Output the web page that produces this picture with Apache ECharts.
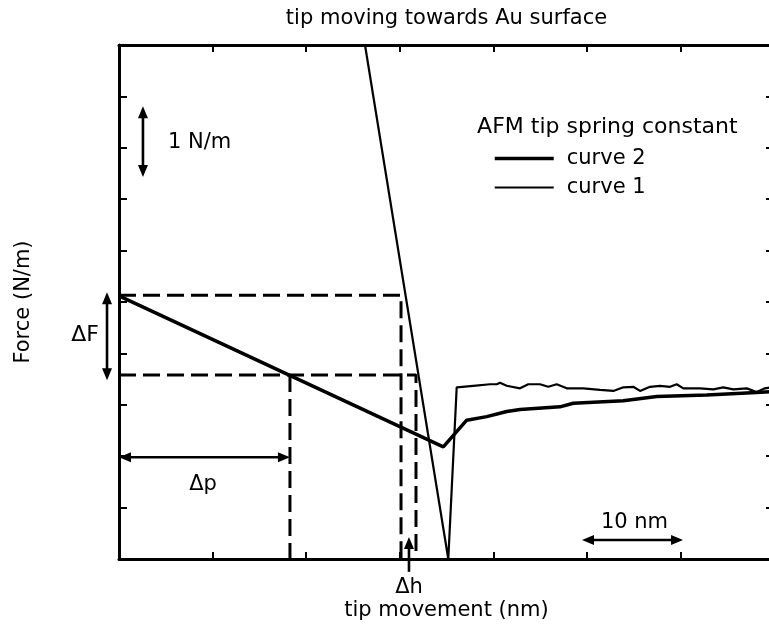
<!DOCTYPE html>
<html>
<head>
<meta charset="utf-8">
<script src="https://cdn.jsdelivr.net/npm/echarts@6/dist/echarts.min.js"></script>
<style>
html, body { margin: 0; padding: 0; background: #fff; overflow: hidden; }
#main { width: 776px; height: 631px; }
</style>
</head>
<body>
<div id="main"></div>
<script>
// tip movement (nm) / force (tick units)
var curve2X = [0, 34.66, 37.16, 39.30, 41.44, 42.86, 47.13, 48.55, 53.89, 57.47, 62.81, 68.15, 70];
var curve2Y = [5.12, 2.18, 2.70, 2.77, 2.87, 2.91, 2.96, 3.03, 3.08, 3.16, 3.19, 3.24, 3.26];

var curve1X = [26.29, 35.19, 36.09, 37.86, 39.65, 40.37, 40.72, 41.43, 42.86, 43.74, 44.99, 45.88, 46.78, 47.85,
	49.62, 51.41, 52.83, 53.90, 54.97, 55.68, 56.75, 57.82, 58.89, 59.60, 60.31, 62.09, 63.51, 64.58, 65.65,
	67.08, 68.15, 69.04, 70];
var curve1Y = [10, 0, 3.34, 3.37, 3.40, 3.40, 3.43, 3.37, 3.32, 3.40, 3.40, 3.35, 3.40, 3.32,
	3.32, 3.29, 3.27, 3.34, 3.35, 3.27, 3.35, 3.37, 3.35, 3.40, 3.32, 3.32, 3.30, 3.34, 3.30,
	3.32, 3.25, 3.32, 3.35];

// dashed construction lines
var upperGuideX = [0, 30.14, 30.14];
var upperGuideY = [5.13, 5.13, 0];
var lowerGuideX = [0, 31.74, 31.74];
var lowerGuideY = [3.58, 3.58, 0];
var dpGuideX = [18.27, 18.27];
var dpGuideY = [3.58, 0];

var xRange = [0, 70];
var xStep = 10;
var yRange = [0, 10];
var yStep = 1;

// annotation arrows: [x1, y1, x2, y2] in data units
var arrowForce = [-1.28, 5.19, -1.28, 3.48];
var arrowDp = [0, 1.98, 18.27, 1.98];
var arrowDh = [30.99, -0.25, 30.99, 0.43];
var arrowUnitY = [2.56, 8.81, 2.56, 7.43];
var arrowUnitX = [49.48, 0.37, 60.28, 0.37];

var FONT = 'DejaVu Sans';
var W2 = 3.5, W1 = 2.2;

function zip(xs, ys) {
	var out = [];
	for (var i = 0; i < xs.length; i++) out.push([xs[i], ys[i]]);
	return out;
}

function axisX(pos, name, gap) {
	return {
		type: 'value', position: pos, min: xRange[0], max: xRange[1], interval: xStep,
		name: name, nameLocation: 'middle', nameGap: gap,
		nameTextStyle: { fontFamily: FONT, fontSize: 21, color: '#000' },
		axisLine: { onZero: false, lineStyle: { color: '#000', width: 3 } },
		axisTick: { inside: true, length: 7, lineStyle: { color: '#000', width: 2 } },
		axisLabel: { show: false },
		splitLine: { show: false }
	};
}

function axisY(pos, name) {
	return {
		type: 'value', position: pos, min: yRange[0], max: yRange[1], interval: yStep,
		name: name, nameLocation: 'middle', nameGap: 85, nameRotate: 90,
		nameTextStyle: { fontFamily: FONT, fontSize: 21, color: '#000' },
		axisLine: { onZero: false, lineStyle: { color: '#000', width: 3 } },
		axisTick: { inside: true, length: 8, lineStyle: { color: '#000', width: 2 } },
		axisLabel: { show: false },
		splitLine: { show: false }
	};
}

function guide(xs, ys) {
	return {
		type: 'line', data: zip(xs, ys), symbol: 'none', silent: true, z: 1,
		itemStyle: { color: '#000' },
		lineStyle: { color: '#000', width: 3, type: [17, 7] }
	};
}

var myChart = echarts.init(document.getElementById('main'));
option = {
	backgroundColor: '#fff',
	animation: false,
	grid: { left: 119, top: 45, width: 655, height: 514 },
	xAxis: [axisX('bottom', 'tip movement (nm)', 41), axisX('top', 'tip moving towards Au surface', 16)],
	yAxis: [axisY('left', 'Force (N/m)'), axisY('right', '')],
	legend: {
		data: [
			{ name: 'curve 2', lineStyle: { width: W2 } },
			{ name: 'curve 1', lineStyle: { width: W1 } }
		],
		orient: 'vertical',
		left: 493, top: 148, padding: 0,
		itemWidth: 59, itemHeight: 14, itemGap: 8,
		selectedMode: false,
		itemStyle: { opacity: 0 },
		textStyle: { fontFamily: FONT, fontSize: 21, color: '#000', padding: [0, 0, 0, 8] }
	},
	series: [
		guide(upperGuideX, upperGuideY),
		guide(lowerGuideX, lowerGuideY),
		guide(dpGuideX, dpGuideY),
		{
			name: 'curve 2', type: 'line', data: zip(curve2X, curve2Y), symbol: 'none', z: 3,
			itemStyle: { color: '#000' },
			lineStyle: { color: '#000', width: W2 }
		},
		{
			name: 'curve 1', type: 'line', data: zip(curve1X, curve1Y), symbol: 'none', z: 3,
			itemStyle: { color: '#000' },
			lineStyle: { color: '#000', width: W1 }
		}
	]
};
myChart.setOption(option);

// arrows and labels placed through the grid's scales
function px(x, y) {
	return myChart.convertToPixel({ gridIndex: 0 }, [x, y]);
}

function arrow(a, both) {
	var p1 = px(a[0], a[1]), p2 = px(a[2], a[3]);
	var dx = p2[0] - p1[0], dy = p2[1] - p1[1];
	var len = Math.sqrt(dx * dx + dy * dy);
	var ux = dx / len, uy = dy / len, hl = 12, hw = 5;
	function head(t, ux, uy) {
		return {
			type: 'polygon', silent: true, z: 10,
			shape: { points: [t, [t[0] - ux * hl - uy * hw, t[1] - uy * hl + ux * hw], [t[0] - ux * hl + uy * hw, t[1] - uy * hl - ux * hw]] },
			style: { fill: '#000' }
		};
	}
	var s = both ? [p1[0] + ux * hl * 0.7, p1[1] + uy * hl * 0.7] : p1;
	var e = [p2[0] - ux * hl * 0.7, p2[1] - uy * hl * 0.7];
	var els = [{
		type: 'line', silent: true, z: 10,
		shape: { x1: s[0], y1: s[1], x2: e[0], y2: e[1] },
		style: { stroke: '#000', lineWidth: 2.6 }
	}, head(p2, ux, uy)];
	if (both) els.push(head(p1, -ux, -uy));
	return els;
}

function label(text, x, y, align, size) {
	var p = px(x, y);
	return {
		type: 'text', x: p[0], y: p[1], silent: true, z: 10,
		style: { text: text, fontFamily: FONT, fontSize: size || 21, fill: '#000', align: align || 'center', verticalAlign: 'middle' }
	};
}

var g = [];
g = g.concat(arrow(arrowForce, true), arrow(arrowDp, true), arrow(arrowDh, false),
	arrow(arrowUnitY, true), arrow(arrowUnitX, true));
g.push(label('ΔF', -3.63, 4.36, 'center', 22));
g.push(label('Δp', 8.98, 1.44));
g.push(label('Δh', 30.99, -0.56));
g.push(label('1 N/m', 5.24, 8.11, 'left'));
g.push(label('10 nm', 55.09, 0.70));
g.push(label('AFM tip spring constant', 38.27, 8.39, 'left', 22));

myChart.setOption({ graphic: g });
</script>
</body>
</html>
